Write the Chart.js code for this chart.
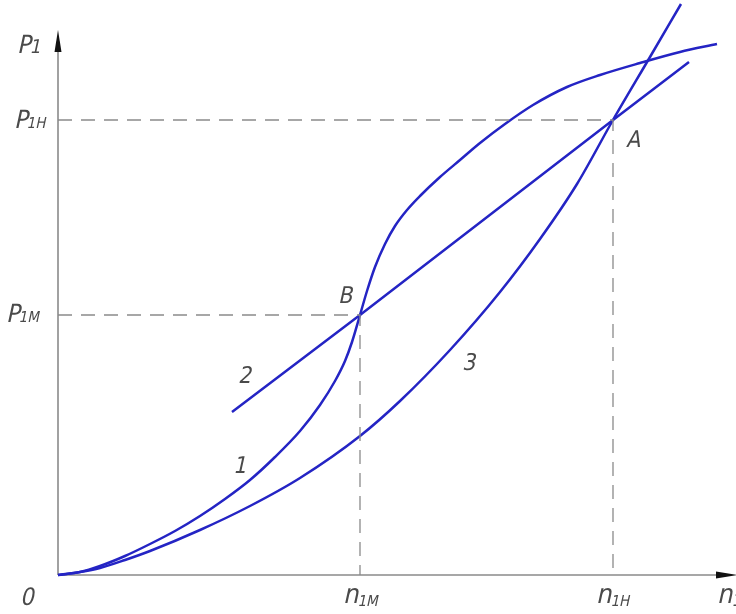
<!DOCTYPE html>
<html>
<head>
<meta charset="utf-8">
<script src="https://cdn.jsdelivr.net/npm/chart.js@4.4.1/dist/chart.umd.min.js"></script>
<style>
  html, body { margin: 0; padding: 0; background: #ffffff; }
  #wrap { width: 736px; height: 614px; }
</style>
</head>
<body>
<div id="wrap"><canvas id="c" width="736" height="614"></canvas></div>
<script>
// Characteristic operating points
const n1M = 302, n1H = 555;
const P1M = 260, P1H = 455;

// Curve 1: S-shaped characteristic
const curve1X = [0, 22, 42, 67, 92, 117, 142, 167, 192, 217, 242, 262, 277, 287, 294, 302, 309, 317, 327, 337, 349, 362, 382, 402, 422, 447, 475, 509, 542, 582, 622, 659];
const curve1Y = [0, 3, 9, 19, 31, 44, 59, 76, 95, 118, 144, 170, 194, 214, 233, 260, 284, 308, 331, 349, 365, 379, 398, 415, 432, 451, 470, 488, 500, 512, 523, 531];

// Curve 2: straight characteristic through B and A
const curve2X = [174, 302, 555, 631];
const curve2Y = [163, 260, 455, 513];

// Curve 3: concave characteristic through A
const curve3X = [0, 22, 42, 67, 92, 142, 192, 242, 302, 342, 392, 442, 482, 519, 555, 592, 623];
const curve3Y = [0, 3, 7, 15, 24, 45, 69, 97, 139, 174, 225, 283, 336, 391, 455, 518, 571];

const BLUE = '#2424c4';
const GREY = '#8a8a8a';
const TEXT = '#4a4a4a';

const pts = (xs, ys) => xs.map((x, i) => ({ x, y: ys[i] }));

const curveStyle = {
  borderColor: BLUE,
  borderWidth: 2.5,
  pointRadius: 0,
  fill: false,
  showLine: true,
  cubicInterpolationMode: 'monotone'
};
const guideStyle = {
  borderColor: GREY,
  borderWidth: 1.3,
  borderDash: [14, 9],
  pointRadius: 0,
  fill: false,
  showLine: true,
  tension: 0
};

// Axes with arrowheads and the italic drawing labels
const drawingPlugin = {
  id: 'drawing',
  beforeDatasetsDraw(chart) {
    const { ctx, scales: { x, y } } = chart;
    const x0 = x.getPixelForValue(0), y0 = y.getPixelForValue(0);
    ctx.save();
    ctx.strokeStyle = GREY;
    ctx.lineWidth = 1.6;
    ctx.beginPath();
    ctx.moveTo(x0, y0);
    ctx.lineTo(x0, 48);
    ctx.moveTo(x0, y0);
    ctx.lineTo(720, y0);
    ctx.stroke();
    ctx.fillStyle = '#111';
    ctx.beginPath();
    ctx.moveTo(x0, 30);
    ctx.lineTo(x0 - 3.5, 52);
    ctx.lineTo(x0 + 3.5, 52);
    ctx.closePath();
    ctx.fill();
    ctx.beginPath();
    ctx.moveTo(737, y0);
    ctx.lineTo(716, y0 - 3.5);
    ctx.lineTo(716, y0 + 3.5);
    ctx.closePath();
    ctx.fill();
    ctx.restore();
  },
  afterDatasetsDraw(chart) {
    const { ctx, scales: { x, y } } = chart;
    const FONT = '"DejaVu Sans Condensed", "Liberation Sans Narrow", "DejaVu Sans", sans-serif';
    const slanted = (txt, px, py, size) => {
      ctx.save();
      ctx.font = `${size}px ${FONT}`;
      ctx.translate(px, py);
      ctx.transform(1, 0, -0.22, 1, 0, 0);
      ctx.fillText(txt, 0, 0);
      const w = ctx.measureText(txt).width;
      ctx.restore();
      return w;
    };
    const label = (main, sub, px, py, size, subSize, subDrop) => {
      ctx.fillStyle = TEXT;
      const w = slanted(main, px, py, size);
      if (sub) slanted(sub, px + w - 1, py + subDrop, subSize);
    };
    const x0 = x.getPixelForValue(0), y0 = y.getPixelForValue(0);

    label('P', '1', 17, 53, 25, 19, 0);
    label('P', '1H', 14, y.getPixelForValue(P1H) + 8, 25, 15, 0);
    label('P', '1M', 6, y.getPixelForValue(P1M) + 7, 25, 15, 0);
    label('0', '', 20, 605, 24, 0, 0);
    label('n', '1M', x.getPixelForValue(n1M) - 17, y0 + 28, 27, 15, 3);
    label('n', '1H', x.getPixelForValue(n1H) - 17, y0 + 28, 27, 15, 3);
    label('n', '1', x0 + 659, y0 + 28, 27, 17, 3);

    label('B', '', x.getPixelForValue(n1M) - 22, y.getPixelForValue(P1M) - 12, 23, 0, 0);
    label('A', '', x.getPixelForValue(n1H) + 13, y.getPixelForValue(P1H) + 27, 23, 0, 0);

    label('2', '', 238, 383, 23, 0, 0);
    label('1', '', 233, 473, 23, 0, 0);
    label('3', '', 462, 370, 23, 0, 0);
  }
};

new Chart(document.getElementById('c'), {
  type: 'scatter',
  data: {
    datasets: [
      Object.assign({ label: 'guide A', data: [{ x: 0, y: P1H }, { x: n1H, y: P1H }, { x: n1H, y: 0 }] }, guideStyle),
      Object.assign({ label: 'guide B', data: [{ x: 0, y: P1M }, { x: n1M, y: P1M }, { x: n1M, y: 0 }] }, guideStyle),
      Object.assign({ label: '1', data: pts(curve1X, curve1Y) }, curveStyle),
      Object.assign({ label: '2', data: pts(curve2X, curve2Y) }, curveStyle, { cubicInterpolationMode: 'default', tension: 0 }),
      Object.assign({ label: '3', data: pts(curve3X, curve3Y) }, curveStyle)
    ]
  },
  options: {
    responsive: false,
    animation: false,
    layout: { padding: 0 },
    plugins: { legend: { display: false }, tooltip: { enabled: false } },
    scales: {
      x: { type: 'linear', display: false, min: -58, max: 678 },
      y: { type: 'linear', display: false, min: -39, max: 575 }
    }
  },
  plugins: [drawingPlugin]
});
</script>
</body>
</html>
